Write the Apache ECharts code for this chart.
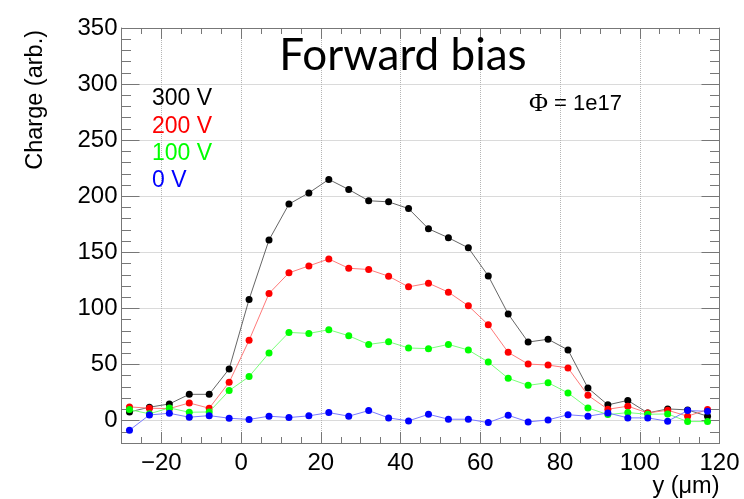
<!DOCTYPE html>
<html>
<head>
<meta charset="utf-8">
<script src="https://cdn.jsdelivr.net/npm/echarts@6/dist/echarts.min.js"></script>
<style>html,body{margin:0;padding:0;background:#fff}#c{width:744px;height:499px}</style>
</head>
<body>
<div id="c"></div>
<script>
var positions = [-28,-23,-18,-13,-8,-3,2,7,12,17,22,27,32,37,42,47,52,57,62,67,72,77,82,87,92,97,102,107,112,117];
var charge300 = [7.7,11.9,14.8,23.4,23.4,46,108,161,193,203,215,206,196,195,189,171,163,154,129,95,70,72.5,63,29,14,18,6.8,10.4,9.5,3.9];
var charge200 = [12.2,11,10.7,15.7,11,34.1,71.5,113.3,131.7,137.9,144.1,135.8,134.7,128.7,119.2,122.5,114.5,102.3,85.4,60.8,50.4,49.5,46.9,22.5,10.1,12.8,6.8,9.2,3.9,9.8];
var charge100 = [9.8,6,11.3,7.4,7.7,26.7,39.2,60.2,78.6,77.7,81.0,75.6,67.9,70.3,64.7,64.1,67.9,62.9,52.2,37.7,31.4,33.8,24.6,11.3,5.3,7.1,5.6,5.9,-0.9,-0.9];
var charge0 = [-8.6,5.0,6.5,3.0,4.4,2.1,1.0,3.9,2.7,4.2,7.1,3.9,8.9,2.4,-0.3,5.6,1.2,1.2,-1.8,4.7,-1.2,0.6,5.2,3.9,6.8,2.4,2.4,-0.6,8.9,8.3];
var seriesNames = ['300 V','200 V','100 V','0 V'];
var xMin = -30, xMax = 120, yMin = -20, yMax = 350;

var markerColors = ['#000000','#ff0000','#00ff00','#0000ff'];
var lineColors = ['#666666','#ff7a7a','#7aff7a','#7a7aff'];
var allData = [charge300, charge200, charge100, charge0];
var FONT = 'Liberation Sans';
var frameColor = '#777';

function pairs(vals){ return positions.map(function(x,i){return [x, vals[i]];}); }
function minus(s){ return String(s).replace('-', '\u2212'); }

var chart = echarts.init(document.getElementById('c'), null, {renderer:'canvas'});

function xAx(pos, major, extra){
  var a = {
    type:'value', gridIndex:0, position:pos, min:xMin, max:xMax,
    axisLine:{show: major, onZero:false, lineStyle:{color:frameColor, width:1}},
    axisTick:{show:true, inside:true, length: major ? 11 : 6, lineStyle:{color:frameColor}},
    axisLabel:{show:false}, splitLine:{show:false}
  };
  if (major) { a.splitNumber = 7; } else { a.interval = 5; }
  return Object.assign(a, extra||{});
}
function yAx(pos, major, extra){
  var a = {
    type:'value', gridIndex:0, position:pos, min:yMin, max:yMax,
    axisLine:{show: major, onZero:false, lineStyle:{color:frameColor, width:1}},
    axisTick:{show:true, inside:true, length: major ? 18 : 9.5, lineStyle:{color:frameColor}},
    axisLabel:{show:false}, splitLine:{show:false}
  };
  if (major) { a.splitNumber = 7; } else { a.interval = 10; }
  return Object.assign(a, extra||{});
}

var option = {
  animation:false,
  backgroundColor:'#fff',
  title:{
    text:'Forward bias', left:398, top:29, textAlign:'center',
    textStyle:{fontFamily:'Lato', fontSize:44, fontWeight:'normal', color:'#000'}
  },
  legend:{
    orient:'vertical', left:147, top:87.5, itemGap:4.3, itemWidth:0, itemHeight:0, icon:'none',
    padding:0, selectedMode:false,
    textStyle:{fontFamily:FONT, fontSize:23},
    data: seriesNames.map(function(n,i){ return {name:n, textStyle:{color:markerColors[i]}}; })
  },
  graphic:[{
    type:'text', left:529, top:91,
    style:{
      text:'{p|\u03A6} = 1e17',
      font:'22px "Liberation Sans"', fill:'#000',
      rich:{p:{fontFamily:'Liberation Serif', fontSize:26, fill:'#000'}}
    }
  }],
  grid:{left:121.5, right:24.5, top:28, bottom:55, containLabel:false},
  xAxis:[
    xAx('bottom', true, {
      name:'y (\u03BCm)', nameLocation:'end', nameGap:0,
      nameTextStyle:{fontFamily:FONT, fontSize:23.5, color:'#000', align:'right', verticalAlign:'top', padding:[32,0,0,0]},
      axisLabel:{show:true, margin:8, fontFamily:FONT, fontSize:24, color:'#000',
        formatter:function(v){ return (v % 20 === 0) ? minus(v) : ''; }},
      splitLine:{show:true, lineStyle:{type:'dotted', color:'#b5b5b5', width:1}}
    }),
    xAx('bottom', false),
    xAx('top', true),
    xAx('top', false)
  ],
  yAxis:[
    yAx('left', true, {
      name:'Charge (arb.)', nameLocation:'end', nameGap:-2, nameRotate:90,
      nameTextStyle:{fontFamily:FONT, fontSize:23.5, color:'#000', align:'right', verticalAlign:'bottom', padding:[0,0,74,0]},
      axisLabel:{show:true, margin:4, fontFamily:FONT, fontSize:24, color:'#000',
        formatter:function(v){ return (v % 50 === 0) ? minus(v) : ''; }},
      splitLine:{show:true, lineStyle:{type:'dotted', color:'#b5b5b5', width:1}}
    }),
    yAx('left', false),
    yAx('right', true),
    yAx('right', false)
  ],
  series: allData.map(function(d,i){
    return {
      name: seriesNames[i], type:'line', xAxisIndex:0, yAxisIndex:0,
      data: pairs(d), symbol:'circle', symbolSize:7, showSymbol:true,
      itemStyle:{color:markerColors[i]},
      lineStyle:{color:lineColors[i], width:1},
      z: 2 + i
    };
  })
};
chart.setOption(option);
</script>
</body>
</html>
